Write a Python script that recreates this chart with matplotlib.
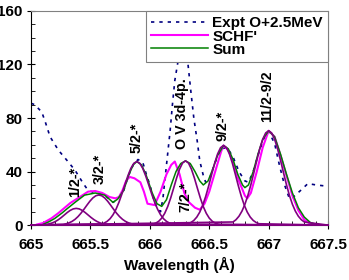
import matplotlib
matplotlib.use("Agg")
import matplotlib.pyplot as plt
from matplotlib.ticker import MultipleLocator

plt.rcParams["font.family"] = ["Liberation Sans", "DejaVu Sans"]
plt.rcParams["font.weight"] = "bold"

# experimental spectrum (Expt O+2.5MeV)
expt_x = [665.00, 665.03, 665.09, 665.12, 665.16, 665.23, 665.30, 665.37, 665.44, 665.48,
          665.54, 665.62, 665.69, 665.73, 665.78, 665.82, 665.86, 665.90, 665.94, 665.97,
          666.00, 666.03, 666.06, 666.09, 666.11, 666.14, 666.17, 666.19, 666.21, 666.24,
          666.28, 666.32, 666.345, 666.37, 666.40, 666.42, 666.45, 666.47, 666.50, 666.55,
          666.60, 666.65, 666.70, 666.75, 666.80, 666.83, 666.87, 666.92, 666.97, 667.00,
          667.05, 667.09, 667.13, 667.17, 667.19, 667.22, 667.27, 667.33, 667.40, 667.50]
expt_y = [91, 90, 84.5, 77, 66, 56, 48.6, 41, 31, 26,
          24, 22.4, 17, 19.5, 26, 37, 45, 49, 47, 38,
          30, 20, 13, 10, 20, 45, 70, 90, 108, 124,
          128, 121, 100, 80, 62, 48, 37, 32, 34, 47,
          57, 58, 51, 40, 33, 32, 40, 55, 67, 70,
          61, 45, 31, 21, 19.5, 22, 26, 31, 30, 29]

# SCHF' calculation
schf_x = [665.05, 665.10, 665.17, 665.23, 665.33, 665.41, 665.48, 665.54, 665.60, 665.66,
          665.71, 665.74, 665.77, 665.80, 665.83, 665.87, 665.92, 665.95, 665.98, 666.04,
          666.09, 666.14, 666.18, 666.21, 666.25, 666.29, 666.33, 666.38, 666.42, 666.46,
          666.50, 666.55, 666.60, 666.62, 666.66, 666.70, 666.75, 666.80, 666.82, 666.85,
          666.90, 666.95, 667.00, 667.05, 667.10, 667.15, 667.20, 667.25, 667.30, 667.35,
          667.40]
schf_y = [0.5, 1.5, 5, 9, 16.5, 21, 25, 25.5, 24, 21,
          20, 21, 26, 33, 36, 35, 32, 25, 16, 15,
          25, 38, 45, 47.5, 38, 24, 17, 13, 11.5, 16,
          25, 40, 55, 59.5, 56, 47, 33, 22, 20, 24,
          40, 58, 70.5, 66, 52, 37, 22, 11, 4, 1,
          0]

# Sum of fitted components
sum_x = [665.10, 665.15, 665.20, 665.26, 665.30, 665.37, 665.45, 665.54, 665.62, 665.69,
         665.73, 665.78, 665.82, 665.86, 665.89, 665.93, 665.97, 666.02, 666.06, 666.10,
         666.14, 666.18, 666.22, 666.26, 666.30, 666.34, 666.38, 666.42, 666.45, 666.49,
         666.53, 666.57, 666.62, 666.66, 666.70, 666.74, 666.78, 666.80, 666.83, 666.87,
         666.91, 666.95, 667.00, 667.05, 667.10, 667.15, 667.20, 667.25, 667.30, 667.35,
         667.40]
sum_y = [0.5, 2.5, 5, 9, 12, 17, 22.4, 24, 22.4, 17,
         19.5, 26, 37, 45, 47.5, 45, 37, 24, 16, 14,
         19, 30, 40, 46, 48, 46, 40, 33, 30, 33,
         42, 52, 59.5, 57, 49, 38, 30, 28, 30, 40,
         53, 64, 70.5, 66, 53, 38, 24, 13, 6, 2,
         0.5]

# fitted line components: centre and profile sampled on a common offset grid
offsets = [-0.300, -0.275, -0.250, -0.225, -0.200, -0.175, -0.150, -0.125, -0.100, -0.075,
           -0.050, -0.025, 0.000, 0.025, 0.050, 0.075, 0.100, 0.125, 0.150, 0.175,
           0.200, 0.225, 0.250, 0.275, 0.300]
centres = [665.38, 665.57, 665.89, 666.30, 666.62, 667.00]
profiles = [
    [0.14, 0.29, 0.55, 1.0, 1.69, 2.7, 4.06, 5.72, 7.58, 9.44, 11.03, 12.12, 12.5,
     12.12, 11.03, 9.44, 7.58, 5.72, 4.06, 2.7, 1.69, 1.0, 0.55, 0.29, 0.14],
    [0.55, 0.99, 1.7, 2.78, 4.31, 6.35, 8.88, 11.8, 14.88, 17.83, 20.29, 21.93, 22.5,
     21.93, 20.29, 17.83, 14.88, 11.8, 8.88, 6.35, 4.31, 2.78, 1.7, 0.99, 0.55],
    [0.8, 1.54, 2.79, 4.78, 7.74, 11.85, 17.12, 23.38, 30.18, 36.8, 42.41, 46.17, 47.5,
     46.17, 42.41, 36.8, 30.18, 23.38, 17.12, 11.85, 7.74, 4.78, 2.79, 1.54, 0.8],
    [0.33, 0.72, 1.51, 2.9, 5.23, 8.8, 13.8, 20.2, 27.59, 35.15, 41.79, 46.37, 48.0,
     46.37, 41.79, 35.15, 27.59, 20.2, 13.8, 8.8, 5.23, 2.9, 1.51, 0.72, 0.33],
    [1.01, 1.93, 3.49, 5.99, 9.7, 14.84, 21.44, 29.29, 37.81, 46.1, 53.12, 57.84, 59.5,
     57.84, 53.12, 46.1, 37.81, 29.29, 21.44, 14.84, 9.7, 5.99, 3.49, 1.93, 1.01],
    [2.35, 4.04, 6.63, 10.4, 15.54, 22.15, 30.11, 39.05, 48.31, 56.99, 64.14, 68.86, 70.5,
     68.86, 64.14, 56.99, 48.31, 39.05, 30.11, 22.15, 15.54, 10.4, 6.63, 4.04, 2.35],
]

labels = ["1/2-*", "3/2-*", "5/2-*", "O V 3d-4p.", "7/2-*", "9/2-*", "11/2-9/2"]
label_x = [665.37, 665.58, 665.89, 666.27, 666.30, 666.61, 666.99]
label_y = [21, 31, 54, 57, 9.5, 63, 77]

xmin, xmax = 665.0, 667.5

fig = plt.figure(figsize=(3.49, 2.80), dpi=100)
ax = fig.add_axes([0.089, 0.196, 0.851, 0.765])

ax.plot(expt_x, expt_y, color="#000080", lw=1.2, linestyle=(0, (2, 3)),
        zorder=1.5, label="Expt O+2.5MeV")
ax.plot(schf_x, schf_y, color="#ff00ff", lw=1.5, zorder=2, label="SCHF'")
ax.plot(sum_x, sum_y, color="#008000", lw=1.1, zorder=3, label="Sum")
for c, prof in zip(centres, profiles):
    gx = [xmin] + [c + o for o in offsets] + [xmax]
    gy = [0] + prof + [0]
    ax.plot(gx, gy, color="#800080", lw=1.2, zorder=4, clip_on=False)

for s, lx, ly in zip(labels, label_x, label_y):
    ax.text(lx, ly, s, rotation=90, ha="center", va="bottom", fontsize=10.3,
            fontweight="bold", zorder=6)

ax.set_xlim(xmin, xmax)
ax.set_ylim(0, 160)
ax.xaxis.set_minor_locator(MultipleLocator(0.1))
ax.yaxis.set_major_locator(MultipleLocator(40))
ax.yaxis.set_minor_locator(MultipleLocator(10))
ax.set_xticks([665, 665.5, 666, 666.5, 667, 667.5])
ax.set_xticklabels(["665", "665.5", "666", "666.5", "667", "667.5"])
ax.tick_params(which="major", direction="inout", length=6, width=0.8, labelsize=11, pad=3)
ax.tick_params(which="minor", direction="in", length=3, width=0.6)
ax.tick_params(axis="x", which="major", pad=6)
for lab in ax.get_xticklabels() + ax.get_yticklabels():
    lab.set_fontweight("bold")

ax.spines["top"].set_color("#808080")
ax.spines["right"].set_color("#808080")
ax.set_xlabel("Wavelength (Å)", fontsize=11, fontweight="bold", labelpad=4)

h, l = ax.get_legend_handles_labels()
leg = ax.legend(h, l, loc="upper right",
                bbox_to_anchor=(1.0, 1.0), borderaxespad=0,
                prop={"weight": "bold", "size": 11}, handlelength=3.7,
                handletextpad=0.3, labelspacing=-0.05, borderpad=0.35,
                frameon=True, fancybox=False, framealpha=1)
leg.get_frame().set_edgecolor("#808080")
leg.get_frame().set_linewidth(0.8)
leg.set_zorder(10)

fig.savefig("out.png", dpi=100)
